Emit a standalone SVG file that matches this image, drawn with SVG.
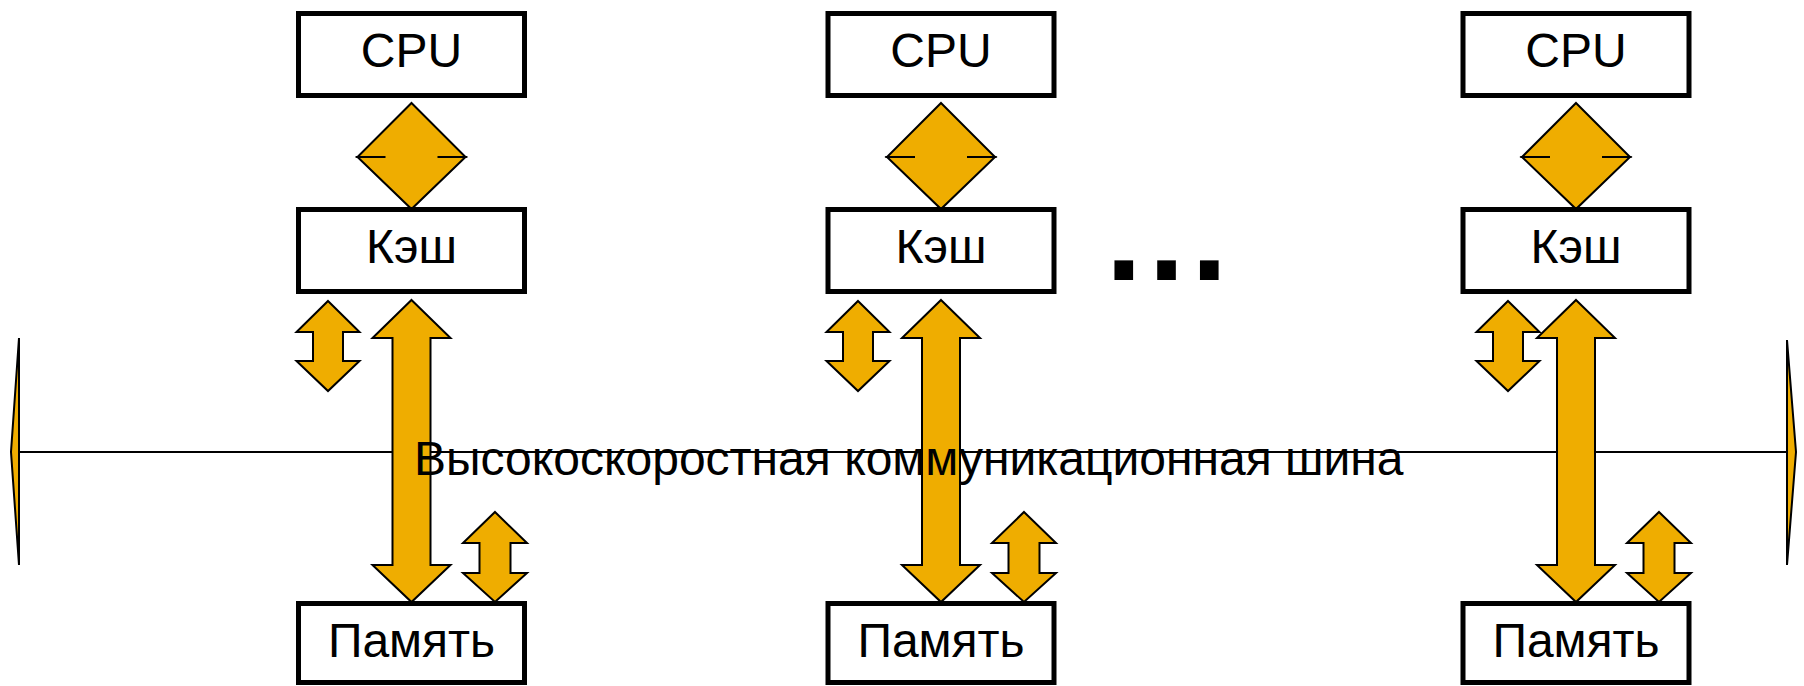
<svg xmlns="http://www.w3.org/2000/svg" width="1804" height="686" viewBox="0 0 1804 686">
<defs>
<style>
.box{fill:#fff;stroke:#000;stroke-width:5}
.arr{fill:#EFAD00;stroke:#000;stroke-width:2;stroke-linejoin:miter}
.lbl{font-family:"Liberation Sans",Arial,sans-serif;font-size:48px;fill:#000;text-anchor:middle}
.bus{font-family:"Liberation Sans",Arial,sans-serif;font-size:48px;fill:#000}
.dots{font-family:"Liberation Sans",Arial,sans-serif;font-weight:bold;font-size:132px;letter-spacing:6px;fill:#000}
</style>
<polygon id="dia" class="arr" points="0,103 54,157 26,157 54,157 0,209 -54,157 -26,157 -54,157"/>
<polygon id="big" class="arr" points="0,300 39,338 19,338 19,565 39,565 0,602 -39,565 -19,565 -19,338 -39,338"/>
<polygon id="sm1" class="arr" points="0,301 31.5,332 15,332 15,361 31.5,361 0,391 -31.5,361 -15,361 -15,332 -31.5,332"/>
<polygon id="sm2" class="arr" points="0,512 32,543 15.5,543 15.5,573 32,573 0,602 -32,573 -15.5,573 -15.5,543 -32,543"/>
</defs>
<rect width="1804" height="686" fill="#fff"/>
<g id="bus">
<line x1="19" y1="452" x2="1787" y2="452" stroke="#000" stroke-width="2"/>
<polygon class="arr" points="19,338 11,452 19,565"/>
<polygon class="arr" points="1787,340 1796,452 1787,565"/>
</g>
<g id="connectors">
<use href="#dia" x="411.5"/>
<use href="#big" x="411.5"/>
<use href="#sm1" x="328"/>
<use href="#sm2" x="495"/>
<use href="#dia" x="941"/>
<use href="#big" x="941"/>
<use href="#sm1" x="858"/>
<use href="#sm2" x="1024"/>
<use href="#dia" x="1576"/>
<use href="#big" x="1576"/>
<use href="#sm1" x="1508"/>
<use href="#sm2" x="1659"/>
</g>
<g id="cpu1"><rect class="box" x="298.5" y="13.5" width="226" height="82"/><text class="lbl" x="411.5" y="67">CPU</text></g>
<g id="cache1"><rect class="box" x="298.5" y="209.5" width="226" height="82"/><text class="lbl" x="411.5" y="263">Кэш</text></g>
<g id="mem1"><rect class="box" x="298.5" y="603.5" width="226" height="79"/><text class="lbl" x="411.5" y="657">Память</text></g>
<g id="cpu2"><rect class="box" x="828" y="13.5" width="226" height="82"/><text class="lbl" x="941" y="67">CPU</text></g>
<g id="cache2"><rect class="box" x="828" y="209.5" width="226" height="82"/><text class="lbl" x="941" y="263">Кэш</text></g>
<g id="mem2"><rect class="box" x="828" y="603.5" width="226" height="79"/><text class="lbl" x="941" y="657">Память</text></g>
<g id="cpu3"><rect class="box" x="1463" y="13.5" width="226" height="82"/><text class="lbl" x="1576" y="67">CPU</text></g>
<g id="cache3"><rect class="box" x="1463" y="209.5" width="226" height="82"/><text class="lbl" x="1576" y="263">Кэш</text></g>
<g id="mem3"><rect class="box" x="1463" y="603.5" width="226" height="79"/><text class="lbl" x="1576" y="657">Память</text></g>
<g id="ellipsis"><text class="dots" x="1105.6" y="280">...</text></g>
<g id="bus-label"><text class="bus" x="414" y="475">Высокоскоростная коммуникационная шина</text></g>
</svg>
